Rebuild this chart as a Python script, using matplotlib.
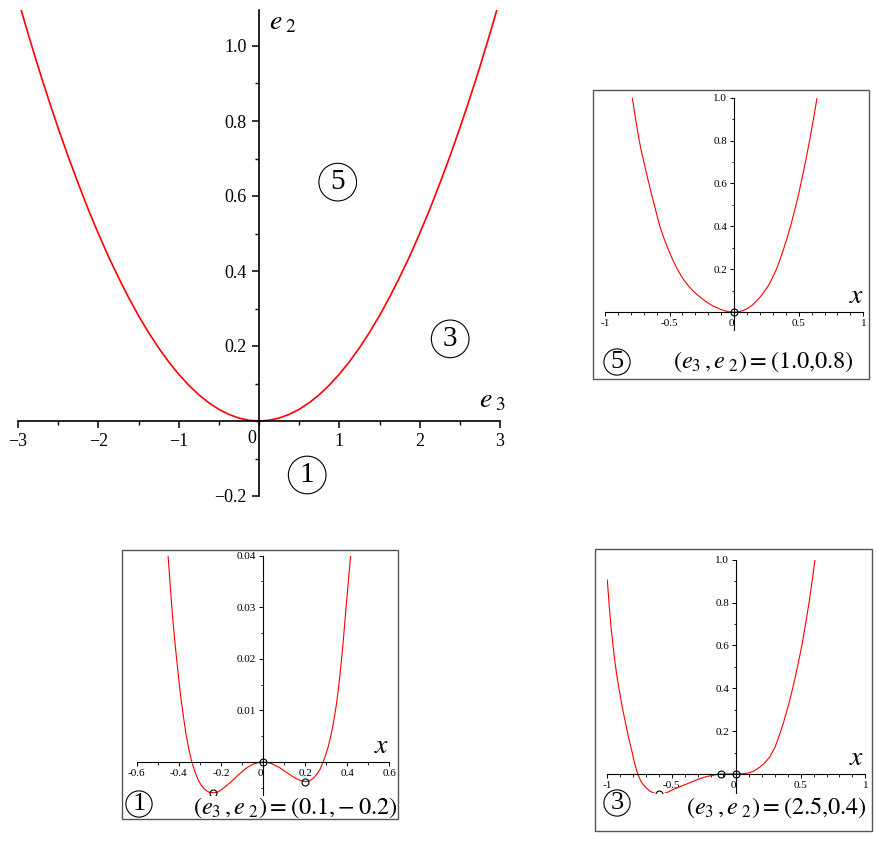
import matplotlib
matplotlib.use('Agg')
import matplotlib.pyplot as plt
from matplotlib.patches import Rectangle
from matplotlib.ticker import MultipleLocator

plt.rcParams['font.family'] = ['Liberation Serif', 'DejaVu Serif']
plt.rcParams['mathtext.fontset'] = 'stix'

# Curva de bifurcação no plano (e3, e2)
e3_vals = [-3.0, -2.875, -2.75, -2.625, -2.5, -2.375, -2.25, -2.125, -2.0, -1.875, -1.75, -1.625,
           -1.5, -1.375, -1.25, -1.125, -1.0, -0.875, -0.75, -0.625, -0.5, -0.375, -0.25, -0.125, 0.0,
           0.125, 0.25, 0.375, 0.5, 0.625, 0.75, 0.875, 1.0, 1.125, 1.25, 1.375, 1.5,
           1.625, 1.75, 1.875, 2.0, 2.125, 2.25, 2.375, 2.5, 2.625, 2.75, 2.875, 3.0]
e2_vals = [1.125, 1.033, 0.945, 0.861, 0.781, 0.705, 0.633, 0.564, 0.5, 0.439, 0.383, 0.330,
           0.281, 0.236, 0.195, 0.158, 0.125, 0.0957, 0.070, 0.0488, 0.031, 0.0176, 0.0078, 0.002, 0.0,
           0.002, 0.0078, 0.0176, 0.031, 0.0488, 0.070, 0.0957, 0.125, 0.158, 0.195, 0.236, 0.281,
           0.330, 0.383, 0.439, 0.5, 0.564, 0.633, 0.705, 0.781, 0.861, 0.945, 1.033, 1.125]
main_xticks = [-3, -2, -1, 1, 2, 3]
main_yticks = [-0.2, 0.2, 0.4, 0.6, 0.8, 1.0]
regioes = ['5', '3', '1']
regioes_e3 = [0.98, 2.38, 0.6]
regioes_e2 = [0.637, 0.219, -0.144]

# Região 5: (e3, e2) = (1.0, 0.8)
r5_x = [-0.789, -0.776, -0.763, -0.749, -0.735, -0.718, -0.699, -0.68, -0.66, -0.64, -0.618,
        -0.597, -0.575, -0.547, -0.515, -0.48, -0.44, -0.39, -0.35, -0.32, -0.27, -0.22, -0.17,
        -0.13, -0.1, -0.07, -0.035, 0.0, 0.03, 0.06, 0.085, 0.11, 0.14, 0.17, 0.205, 0.237, 0.267,
        0.288, 0.327, 0.358, 0.386, 0.412, 0.436, 0.458, 0.479, 0.499, 0.517, 0.535, 0.552,
        0.568, 0.584, 0.599, 0.614, 0.628, 0.642]
r5_y = [1.0, 0.95, 0.9, 0.85, 0.8, 0.75, 0.7, 0.65, 0.6, 0.55, 0.5,
        0.45, 0.4, 0.35, 0.3, 0.25, 0.2, 0.15, 0.12, 0.1, 0.073, 0.05, 0.031,
        0.02, 0.012, 0.0059, 0.0015, 0.0, 0.0015, 0.006, 0.012, 0.02, 0.033, 0.05, 0.073, 0.1, 0.125,
        0.15, 0.2, 0.25, 0.3, 0.35, 0.4, 0.45, 0.5, 0.55, 0.6, 0.65, 0.7,
        0.75, 0.8, 0.85, 0.9, 0.95, 1.0]
r5_crit_x = [0.0]
r5_crit_y = [0.0]

# Região 1: (e3, e2) = (0.1, -0.2)
r1_x = [-0.451, -0.443, -0.435, -0.427, -0.419, -0.41, -0.4, -0.389, -0.377, -0.365, -0.352, -0.338,
        -0.324, -0.31, -0.295, -0.28, -0.26, -0.2375, -0.22, -0.2, -0.18, -0.16, -0.14, -0.12,
        -0.1, -0.08, -0.06, -0.04, -0.02, 0.0, 0.02, 0.04, 0.06, 0.08, 0.1, 0.12, 0.14, 0.16,
        0.18, 0.201, 0.22, 0.24, 0.255, 0.27, 0.286, 0.298, 0.31, 0.32, 0.33, 0.34, 0.35, 0.36,
        0.37, 0.381, 0.393, 0.404, 0.416]
r1_y = [0.04, 0.0355, 0.031, 0.027, 0.0235, 0.0198, 0.016, 0.0121, 0.0085, 0.0052, 0.0024, 0.0,
        -0.0018, -0.0033, -0.0044, -0.0052, -0.0058, -0.00597, -0.0059, -0.00545, -0.0048, -0.00413, -0.0034, -0.00259,
        -0.0019, -0.00123, -0.0007, -0.00032, -0.00008, 0.0, -0.00008, -0.0003, -0.0007, -0.00112, -0.0017, -0.00222, -0.0028, -0.00326,
        -0.0036, -0.0038, -0.0037, -0.00311, -0.0024, -0.0015, 0.0, 0.0014, 0.003, 0.0047, 0.0066, 0.0089, 0.0115, 0.0148,
        0.0186, 0.0233, 0.0292, 0.0343, 0.04]
r1_crit_x = [-0.2375, 0.0, 0.201]
r1_crit_y = [-0.00597, 0.0, -0.0038]

# Região 3: (e3, e2) = (2.5, 0.4)
r3_x = [-1.0, -0.985, -0.97, -0.955, -0.94, -0.925, -0.91, -0.89, -0.87, -0.85, -0.83, -0.81,
        -0.79, -0.765, -0.74, -0.72, -0.696, -0.67, -0.644, -0.62, -0.6, -0.57, -0.54, -0.515,
        -0.49, -0.44, -0.387, -0.335, -0.284, -0.23, -0.18, -0.15, -0.119, -0.05, 0.0, 0.05,
        0.103, 0.14, 0.18, 0.22, 0.258, 0.3, 0.33, 0.36, 0.385, 0.41, 0.437, 0.462, 0.488,
        0.512, 0.54, 0.566, 0.589, 0.61]
r3_y = [0.905, 0.785, 0.68, 0.595, 0.52, 0.455, 0.4, 0.332, 0.27, 0.212, 0.158, 0.108,
        0.055, 0.0, -0.033, -0.05, -0.066, -0.08, -0.0875, -0.092, -0.094, -0.092, -0.087, -0.08,
        -0.072, -0.06, -0.047, -0.034, -0.022, -0.012, -0.006, -0.002, 0.0, 0.0003, 0.0, 0.001,
        0.006, 0.015, 0.031, 0.052, 0.078, 0.125, 0.175, 0.228, 0.28, 0.335, 0.4, 0.465, 0.54,
        0.612, 0.712, 0.808, 0.905, 1.0]
r3_crit_x = [-0.6, -0.119, 0.0]
r3_crit_y = [-0.094, 0.0, 0.0]

W, H = 877, 841


def fig_rect(x0, y0, x1, y1):
    # converte pixels (origem no topo) em fração da figura
    return [x0 / W, (H - y1) / H, (x1 - x0) / W, (y1 - y0) / H]


def eixos_centrados(ax):
    for s in ['top', 'right']:
        ax.spines[s].set_visible(False)
    ax.spines['left'].set_position(('data', 0))
    ax.spines['bottom'].set_position(('data', 0))
    ax.patch.set_alpha(0)


def circulo(obj, x, y, txt, fs, pad, transform):
    obj.text(x, y, txt, fontsize=fs, ha='center', va='center', transform=transform,
             bbox=dict(boxstyle='circle,pad=%s' % pad, fc='none', ec='black', lw=0.8))


fig = plt.figure(figsize=(W / 100, H / 100), dpi=100)

# ---------- gráfico principal ----------
ax = fig.add_axes(fig_rect(18, 10, 500, 496))
ax.plot(e3_vals, e2_vals, color='#ff0000', lw=1.2)
ax.set_xlim(-3, 3)
ax.set_ylim(-0.2, 1.096)
eixos_centrados(ax)
for s in ['left', 'bottom']:
    ax.spines[s].set_linewidth(1.2)
ax.set_xticks(main_xticks)
ax.set_xticklabels(['\u2212' + str(-t) if t < 0 else str(t) for t in main_xticks], fontsize=13)
ax.set_yticks(main_yticks)
ax.set_yticklabels(['\u2212%.1f' % -t if t < 0 else '%.1f' % t for t in main_yticks], fontsize=13)
ax.xaxis.set_minor_locator(MultipleLocator(0.5))
ax.yaxis.set_minor_locator(MultipleLocator(0.1))
ax.tick_params(which='major', length=5, width=1.1, direction='out', pad=4)
ax.tick_params(which='minor', length=3, width=1.0, direction='out')
ax.text(-0.03, -0.025, '0', fontsize=13, ha='right', va='top')
ax.text(0.12, 1.094, r'$e_{\ 2}$', fontsize=20, ha='left', va='top')
ax.text(2.74, 0.02, r'$e_{\ 3}$', fontsize=20, ha='left', va='bottom')
for lab, x, y in zip(regioes, regioes_e3, regioes_e2):
    circulo(ax, x, y, lab, 21, 0.2, ax.transData)


# ---------- gráficos pequenos ----------
def inset(rect, frame, xs, ys, cx, cy, xlim, ylim, xticks, xlabels, yticks, ylabels,
          xminor, yminor, xlab_pos, num, num_pos, texto, texto_pos):
    fig.add_artist(Rectangle((frame[0], frame[1]), frame[2], frame[3], transform=fig.transFigure,
                             fill=False, ec='#555555', lw=1.0))
    a = fig.add_axes(rect)
    a.plot(xs, ys, color='#ff0000', lw=0.8)
    a.plot(cx, cy, 'o', ms=5, mfc='none', mec='black', mew=0.8)
    a.set_xlim(*xlim)
    a.set_ylim(*ylim)
    eixos_centrados(a)
    for s in ['left', 'bottom']:
        a.spines[s].set_linewidth(0.8)
    a.set_xticks(xticks)
    labs = a.set_xticklabels(xlabels, fontsize=8)
    for l in labs:
        if l.get_text() == '0':
            l.set_ha('right')
    a.set_yticks(yticks)
    a.set_yticklabels(ylabels, fontsize=8)
    a.xaxis.set_minor_locator(MultipleLocator(xminor))
    a.yaxis.set_minor_locator(MultipleLocator(yminor))
    a.tick_params(which='major', length=3, width=0.7, direction='out', pad=2)
    a.tick_params(which='minor', length=1.8, width=0.6, direction='out')
    a.text(xlab_pos[0], xlab_pos[1], r'$x$', fontsize=20, ha='center', va='bottom')
    circulo(fig, num_pos[0] / W, (H - num_pos[1]) / H, num, 19, 0.08, fig.transFigure)
    fig.text(texto_pos[0] / W, (H - texto_pos[1]) / H, texto, fontsize=17.5, ha='center', va='center')
    return a


inset(fig_rect(605, 97.7, 863.3, 330), fig_rect(593, 90, 869, 379), r5_x, r5_y, r5_crit_x, r5_crit_y,
      (-1, 1), (-0.083, 1.0), [-1, -0.5, 0, 0.5, 1], ['-1', '-0.5', '0', '0.5', '1'],
      [0.2, 0.4, 0.6, 0.8, 1.0], ['0.2', '0.4', '0.6', '0.8', '1.0'], 0.1, 0.1,
      (0.95, 0.015), '5', (617, 362), r'$(e_{3}\,,e_{\ 2})=(1.0{,}0.8)$', (763, 362))

inset(fig_rect(136.7, 555.7, 389.3, 795), fig_rect(122, 550, 398, 819), r1_x, r1_y, r1_crit_x, r1_crit_y,
      (-0.6, 0.6), (-0.0064, 0.04), [-0.6, -0.4, -0.2, 0, 0.2, 0.4, 0.6],
      ['-0.6', '-0.4', '-0.2', '0', '0.2', '0.4', '0.6'],
      [0.01, 0.02, 0.03, 0.04], ['0.01', '0.02', '0.03', '0.04'], 0.1, 0.005,
      (0.562, 0.0005), '1', (139, 804), r'$(e_{3}\,,e_{\ 2})=(0.1{,}-0.2)$', (295, 808))

inset(fig_rect(607.3, 559.7, 865.3, 793.3), fig_rect(595, 549, 872, 831), r3_x, r3_y, r3_crit_x, r3_crit_y,
      (-1, 1), (-0.09, 1.0), [-1, -0.5, 0, 0.5, 1], ['-1', '-0.5', '0', '0.5', '1'],
      [0.2, 0.4, 0.6, 0.8, 1.0], ['0.2', '0.4', '0.6', '0.8', '1.0'], 0.1, 0.1,
      (0.933, 0.015), '3', (617, 803), r'$(e_{3}\,,e_{\ 2})=(2.5{,}0.4)$', (776, 808))

fig.savefig('out.png', dpi=100)
